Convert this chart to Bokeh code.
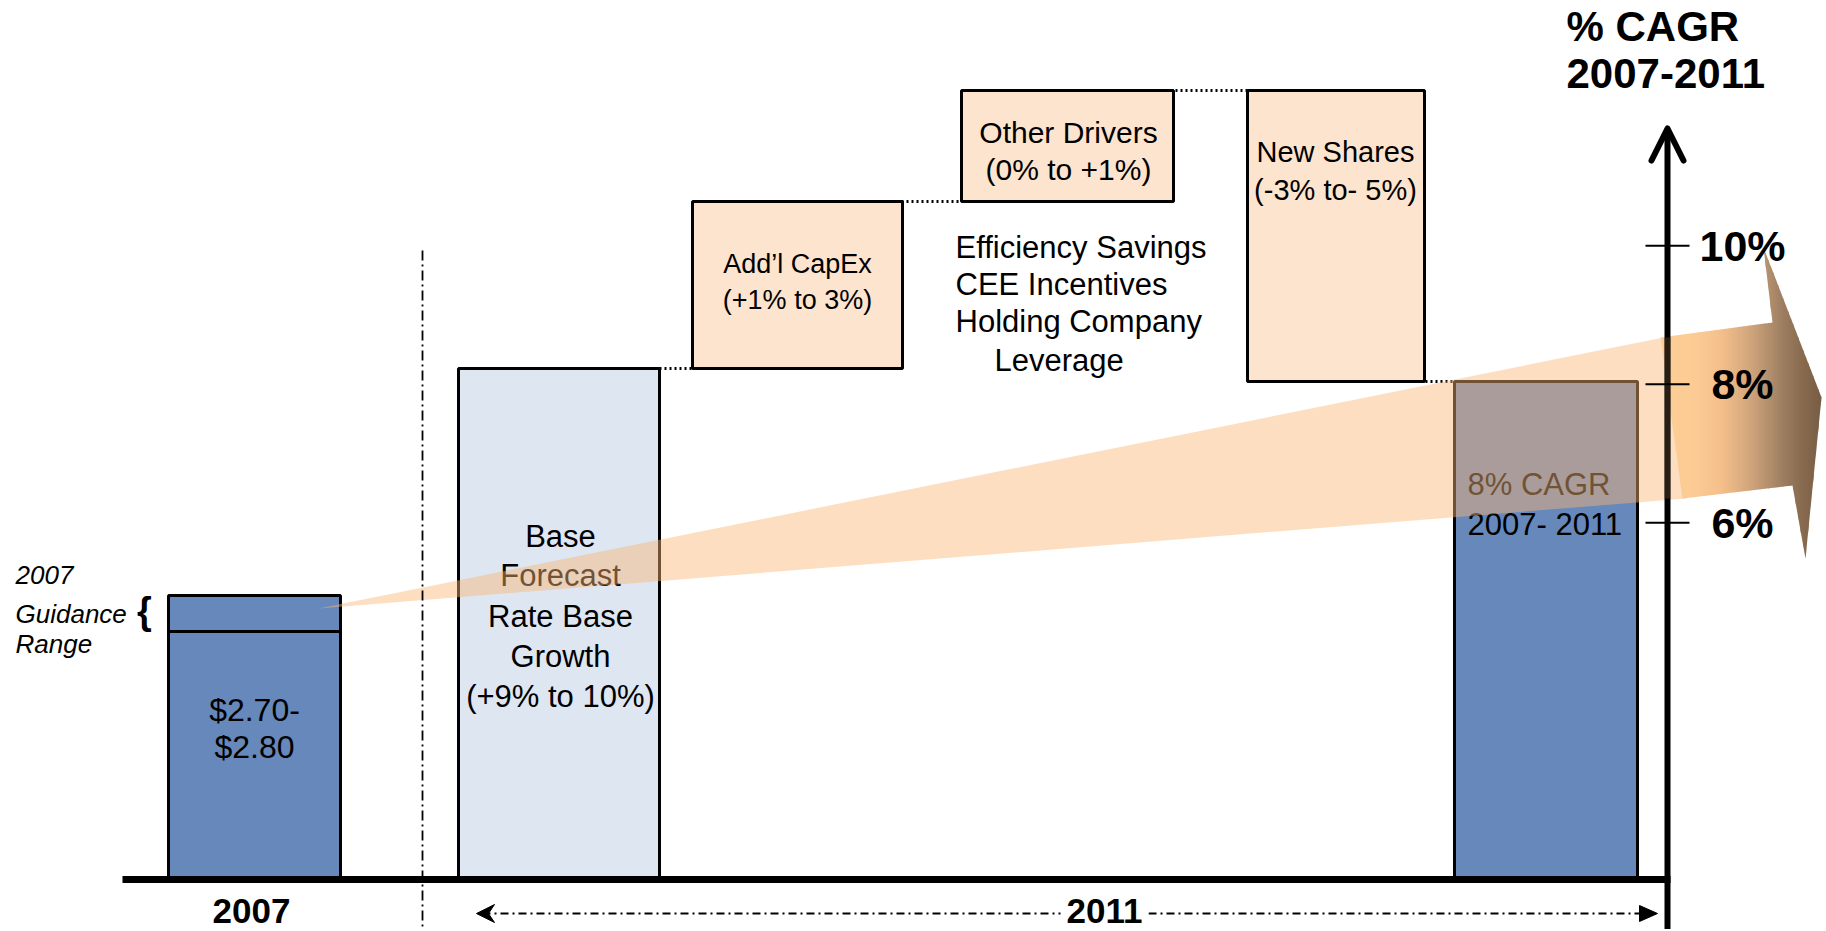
from bokeh.plotting import figure
from bokeh.models import Range1d, ColumnDataSource
from bokeh.embed import file_html
from bokeh.resources import INLINE
from bokeh.core.properties import value

# ---------------- data (heights in relative EPS-build units, baseline = 0) ----------------
bar_names = ["2007", "Base Forecast", "Add'l CapEx", "Other Drivers", "New Shares", "2011"]
bar_bottom = [0, 0, 511, 678, 498, 0]
bar_top = [284, 511, 678, 789, 789, 498]
guidance_low = 248          # 2007 guidance range ($2.70 - $2.80)
guidance_high = 284
cagr_ticks = [6, 8, 10]
cagr_tick_labels = ["6%", "8%", "10%"]
bar_lines = [
    ["$2.70-", "$2.80"],
    ["Base", "Forecast", "Rate Base", "Growth", "(+9% to 10%)"],
    ["Add\u2019l CapEx", "(+1% to 3%)"],
    ["Other Drivers", "(0% to +1%)"],
    ["New Shares", "(-3% to- 5%)"],
    ["8% CAGR", "2007- 2011"],
]
driver_notes = ["Efficiency Savings", "CEE Incentives", "Holding Company", "Leverage"]

# ---------------- layout / style ----------------
W, H = 1824, 929
BASE_Y = 879  # page pixel row of the baseline


def py(Y):
    """page pixel row -> data y"""
    return BASE_Y - Y


bar_left = [168, 458, 692, 961, 1247, 1454]
bar_right = [340, 659, 902, 1173, 1424, 1637]
bar_fill = ["#6688BA", "#DDE6F1", "#FDE4CE", "#FDE4CE", "#FDE4CE", "#6688BA"]
bar_text_x = [254, 560, 797, 1068, 1335, 1467]
bar_text_align = ["center", "center", "center", "center", "center", "left"]
bar_text_size = [32, 31, 27, 30, 29, 31]
bar_text_Y = [[709, 746], [536, 575, 616, 656, 696], [263, 299], [132, 169], [151, 189], [484, 524]]

REG = "Liberation Sans"

p = figure(width=W, height=H, x_range=Range1d(0, W),
           y_range=Range1d(py(H), py(0)),
           output_backend="svg", toolbar_location=None,
           x_axis_type=None, y_axis_type=None,
           min_border=0, outline_line_color=None)
p.min_border_left = p.min_border_right = p.min_border_top = p.min_border_bottom = 0
p.background_fill_color = "white"
p.border_fill_color = "white"

# secondary scale for % CAGR axis (linear in page rows: 6% ~ row 523, 8% ~ 382, 10% ~ 245)
p.extra_y_ranges = {"cagr": Range1d(0.125, 13.540)}

# ---------------- bars ----------------
src = ColumnDataSource(dict(left=bar_left, right=bar_right, bottom=bar_bottom,
                            top=bar_top, fill=bar_fill))
p.quad(left="left", right="right", bottom="bottom", top="top", source=src,
       fill_color="fill", line_color="black", line_width=3)
# guidance range divider on 2007 bar
p.segment(x0=[bar_left[0]], x1=[bar_right[0]], y0=[guidance_low], y1=[guidance_low],
          line_color="black", line_width=3)

# bar texts
for i, lines in enumerate(bar_lines):
    p.text(x=[bar_text_x[i]] * len(lines), y=[py(Y) for Y in bar_text_Y[i]], text=lines,
           text_font=value(REG), text_font_size=f"{bar_text_size[i]}px",
           text_align=bar_text_align[i], text_baseline="middle", text_color="black")

# drivers note
p.text(x=[955, 955, 955, 994], y=[py(Y) for Y in [247, 284, 321, 360]], text=driver_notes,
       text_font=value(REG), text_font_size="31px", text_align="left",
       text_baseline="middle", text_color="black")

# dotted connectors between consecutive bars (waterfall levels)
levels = [bar_top[1], bar_top[2], bar_top[3], bar_bottom[4]]
p.segment(x0=[bar_right[1] - 15, bar_right[2] - 6, bar_right[3] - 8, bar_right[4] - 4],
          x1=[bar_left[2], bar_left[3], bar_left[4], bar_left[5]],
          y0=levels, y1=levels, line_color="black", line_width=3, line_dash="2 3")

# ---------------- growth wedge (semi-transparent) ----------------
wedge_x = [318, 1668, 1686]
wedge_Y = [608, 336, 498]
p.patch(x=wedge_x, y=[py(Y) for Y in wedge_Y], fill_color="#FBB673", fill_alpha=0.45,
        line_color=None)

# ---------------- block arrow head with gradient ----------------
arrow_pts = [(1660, 337), (1772, 322), (1763, 247), (1821, 397), (1805, 558), (1792, 485), (1682, 498)]
grad_stops = [(1660, (253, 206, 152)), (1695, (252, 203, 148)), (1722, (244, 190, 138)),
              (1750, (208, 165, 124)), (1780, (160, 128, 99)), (1800, (138, 108, 80)),
              (1822, (118, 92, 68))]


def grad_color(x):
    if x <= grad_stops[0][0]:
        c = grad_stops[0][1]
    elif x >= grad_stops[-1][0]:
        c = grad_stops[-1][1]
    else:
        for (xa, ca), (xb, cb) in zip(grad_stops[:-1], grad_stops[1:]):
            if xa <= x <= xb:
                t = (x - xa) / (xb - xa)
                c = tuple(int(round(a + t * (b - a))) for a, b in zip(ca, cb))
                break
    return "#%02x%02x%02x" % c


def clip(pts, inside, xc):
    out = []
    n = len(pts)
    for i in range(n):
        cur, prev = pts[i], pts[i - 1]

        def inter(a, b):
            t = (xc - a[0]) / (b[0] - a[0])
            return (xc, a[1] + t * (b[1] - a[1]))
        if inside(cur):
            if not inside(prev):
                out.append(inter(prev, cur))
            out.append(cur)
        elif inside(prev):
            out.append(inter(prev, cur))
    return out


xs, ys, cols = [], [], []
step = 2.5
x = 1660.0
while x < 1822:
    x0, x1 = x, x + step + 0.6
    poly = clip(arrow_pts, lambda q: q[0] >= x0, x0)
    if poly:
        poly = clip(poly, lambda q: q[0] <= x1, x1)
    if len(poly) >= 3:
        xs.append([q[0] for q in poly])
        ys.append([py(q[1]) for q in poly])
        cols.append(grad_color(x + step / 2))
    x += step
p.patches(xs=xs, ys=ys, fill_color=cols, line_color=None)

# ---------------- % CAGR axis ----------------
AX = 1667
p.segment(x0=[AX], x1=[AX], y0=[py(931)], y1=[py(129)], line_color="black", line_width=6)
# axis seen through the arrow
p.segment(x0=[AX], x1=[AX], y0=[py(498)], y1=[py(337)], line_color="#4a3725",
          line_width=6, line_alpha=0.55)
p.line(x=[AX - 16, AX, AX + 16], y=[py(160), py(128), py(160)], line_color="black",
       line_width=6, line_join="round", line_cap="round")
p.segment(x0=[AX - 22] * 3, x1=[AX + 22] * 3, y0=cagr_ticks, y1=cagr_ticks,
          y_range_name="cagr", line_color="black", line_width=2)
p.text(x=[1742] * 3, y=cagr_ticks, text=cagr_tick_labels, y_range_name="cagr",
       text_font=value(REG), text_font_style="bold", text_font_size="43px",
       text_align="center", text_baseline="middle", text_color="black")
p.text(x=[1566, 1566], y=[py(26), py(73)], text=["% CAGR", "2007-2011"],
       text_font=value(REG), text_font_style="bold", text_font_size="42px",
       text_align="left", text_baseline="middle", text_color="black")

# ---------------- baseline & period markers ----------------
p.segment(x0=[122], x1=[AX + 3], y0=[0], y1=[0], line_color="black", line_width=7)
p.segment(x0=[422], x1=[422], y0=[py(250)], y1=[py(931)], line_color="black",
          line_width=1.8, line_dash="10 4 2 4")

p.segment(x0=[482], x1=[1648], y0=[py(913)], y1=[py(913)], line_color="black",
          line_width=1.8, line_dash="8 4 2 4")
p.quad(left=[1060], right=[1148], bottom=[py(934)], top=[py(894)], fill_color="white",
       line_color=None)
p.patch(x=[476, 494, 488, 494], y=[py(913), py(904), py(913), py(922)], fill_color="black",
        line_color="black", line_width=1)
p.patch(x=[1657, 1639, 1639], y=[py(913), py(905), py(921)], fill_color="black",
        line_color="black", line_width=1)
p.text(x=[251, 1104], y=[py(910), py(910)], text=["2007", "2011"],
       text_font=value(REG), text_font_style="bold", text_font_size="35px",
       text_align="center", text_baseline="middle", text_color="black")

# ---------------- guidance label ----------------
p.text(x=[15, 15, 15], y=[py(574), py(613), py(643)], text=["2007", "Guidance", "Range"],
       text_font=value(REG), text_font_style="italic", text_font_size="26px",
       text_align="left", text_baseline="middle", text_color="black")
p.text(x=[144], y=[py(610)], text=["{"], text_font=value(REG), text_font_style="bold",
       text_font_size="38px", text_align="center", text_baseline="middle",
       text_color="black")

open("out.html", "w").write(file_html(p, INLINE))
